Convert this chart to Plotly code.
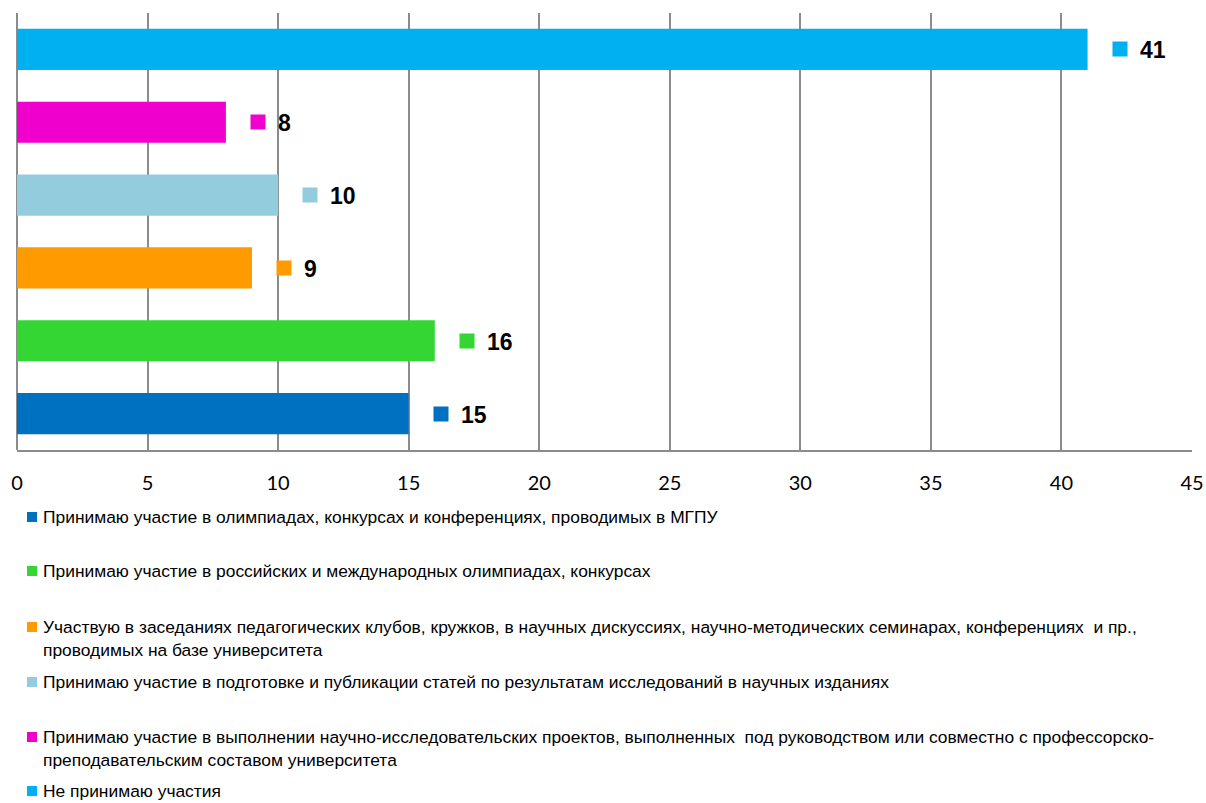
import plotly.graph_objects as go

# Categories listed bottom-to-top as they appear on the chart
categories = [
    "Принимаю участие в олимпиадах, конкурсах и конференциях, проводимых в МГПУ",
    "Принимаю участие в российских и международных олимпиадах, конкурсах",
    "Участвую в заседаниях педагогических клубов, кружков, в научных дискуссиях, научно-методических семинарах, конференциях  и пр.,<br>проводимых на базе университета",
    "Принимаю участие в подготовке и публикации статей по результатам исследований в научных изданиях",
    "Принимаю участие в выполнении научно-исследовательских проектов, выполненных  под руководством или совместно с профессорско-<br>преподавательским составом университета",
    "Не принимаю участия",
]
values = [15, 16, 9, 10, 8, 41]
colors = ["#0070C0", "#33D633", "#FF9A00", "#93CDDD", "#F000CC", "#00B0F0"]
x_ticks = [0, 5, 10, 15, 20, 25, 30, 35, 40, 45]

W, H = 1206, 803
L, R, T, B = 17, 14, 13, 353
pw, ph = W - L - R, H - T - B

TEXT_FONT = "Liberation Sans, Arial, sans-serif"


def px_x(px):
    return (px - L) / pw


def px_y(py):
    return (H - B - py) / ph


fig = go.Figure()
fig.add_trace(go.Bar(
    x=values,
    y=list(range(len(categories))),
    orientation="h",
    marker=dict(color=colors, line=dict(width=0)),
    width=0.565,
    showlegend=False,
    hoverinfo="x",
))

annotations = []
# Value labels: a small colour key followed by the bold number
for i, (v, c) in enumerate(zip(values, colors)):
    annotations.append(dict(
        x=v, y=i, xref="x", yref="y", text=" ", showarrow=False,
        xanchor="left", yanchor="middle", xshift=24,
        width=14, height=14, bgcolor=c, borderpad=0,
    ))
    annotations.append(dict(
        x=v, y=i, xref="x", yref="y", text=f"<b>{v}</b>", showarrow=False,
        xanchor="left", yanchor="middle", xshift=50, yshift=-1,
        font=dict(family=TEXT_FONT, size=23, color="#000000"),
    ))

# Legend block beneath the axis
legend_rows = [517, 571, 627, 682, 737, 791]
shapes = []
for cat, c, row in zip(categories, colors, legend_rows):
    shapes.append(dict(
        type="rect", xref="paper", yref="paper",
        x0=px_x(27), x1=px_x(37), y0=px_y(row + 5), y1=px_y(row - 5),
        fillcolor=c, line=dict(width=0),
    ))
    annotations.append(dict(
        x=px_x(41), y=px_y(row - 12), xref="paper", yref="paper",
        text=cat, showarrow=False, xanchor="left", yanchor="top", align="left",
        font=dict(family=TEXT_FONT, size=17.4, color="#000000"),
    ))

fig.update_layout(
    width=W, height=H,
    margin=dict(l=L, r=R, t=T, b=B, autoexpand=False),
    paper_bgcolor="white", plot_bgcolor="white",
    bargap=0.435,
    xaxis=dict(
        range=[0, 45], tickvals=x_ticks, ticktext=[str(t) for t in x_ticks],
        showgrid=True, gridcolor="#8C8C8C", gridwidth=2,
        zeroline=True, zerolinecolor="#8C8C8C", zerolinewidth=2,
        showline=True, linecolor="#8C8C8C", linewidth=2,
        ticks="", ticklabelstandoff=14, automargin=False,
        tickfont=dict(family="Lato, Open Sans, sans-serif", size=20, color="#000000"),
        fixedrange=True,
    ),
    yaxis=dict(
        range=[-0.5, len(categories) - 0.5],
        showticklabels=False, showgrid=False, zeroline=False, showline=False,
        fixedrange=True, automargin=False,
    ),
    annotations=annotations,
    shapes=shapes,
)

fig.write_html("out.html")
